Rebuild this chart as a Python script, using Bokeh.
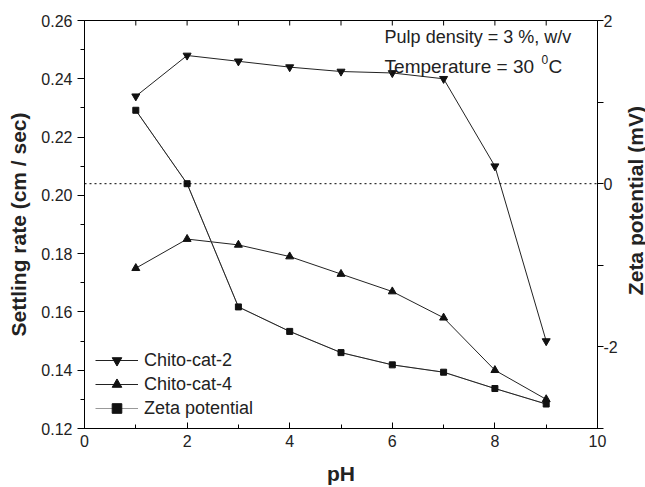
import math
from bokeh.plotting import figure
from bokeh.layouts import row
from bokeh.models import (Range1d, LinearAxis, FixedTicker, Span, Label, Legend,
                          LegendItem, PrintfTickFormatter)
from bokeh.embed import file_html
from bokeh.resources import INLINE

# ---- data ----
ph = [1, 2, 3, 4, 5, 6, 7, 8, 9]
chito_cat_2 = [0.234, 0.248, 0.246, 0.244, 0.2425, 0.242, 0.240, 0.210, 0.150]
chito_cat_4 = [0.175, 0.185, 0.183, 0.179, 0.173, 0.167, 0.158, 0.140, 0.130]
zeta_potential = [0.90, 0.0, -1.51, -1.81, -2.07, -2.22, -2.31, -2.51, -2.70]

x_ticks = [0, 2, 4, 6, 8, 10]
x_minor = [1, 3, 5, 7, 9]
y_ticks = [0.12, 0.14, 0.16, 0.18, 0.20, 0.22, 0.24, 0.26]
y_minor = [0.13, 0.15, 0.17, 0.19, 0.21, 0.23, 0.25]
zeta_ticks = [-2, 0, 2]
zeta_minor = [-3, -1, 1]

FONT = "Liberation Sans"
TXT = "#222222"

p = figure(width=620, height=487, output_backend="svg", toolbar_location=None,
           x_range=Range1d(x_ticks[0], x_ticks[-1]),
           y_range=Range1d(y_ticks[0], y_ticks[-1]),
           min_border_left=84, min_border_right=23, min_border_top=20,
           min_border_bottom=59)
p.extra_y_ranges = {"zeta": Range1d(zeta_minor[0], zeta_ticks[-1])}
p.xgrid.visible = False
p.ygrid.visible = False
p.outline_line_color = "black"
p.background_fill_color = "white"
p.border_fill_color = "white"

# bottom axis (ticks inward)
xa = p.xaxis[0]
xa.ticker = FixedTicker(ticks=x_ticks, minor_ticks=x_minor)
xa.axis_label = "pH"
xa.major_tick_in = 6
xa.major_tick_out = 0
xa.minor_tick_in = 4
xa.minor_tick_out = 0
xa.major_label_standoff = 6
xa.axis_label_standoff = 12

# left axis (ticks outward)
ya = p.yaxis[0]
ya.ticker = FixedTicker(ticks=y_ticks, minor_ticks=y_minor)
ya.formatter = PrintfTickFormatter(format="%.2f")
ya.axis_label = "Settling rate (cm / sec)"
ya.major_tick_in = 0
ya.major_tick_out = 7
ya.minor_tick_in = 0
ya.minor_tick_out = 4
ya.major_label_standoff = 5
ya.axis_label_standoff = 8

# right axis for zeta potential (its title is drawn in the side strip)
ra = LinearAxis(y_range_name="zeta",
                ticker=FixedTicker(ticks=zeta_ticks, minor_ticks=zeta_minor),
                formatter=PrintfTickFormatter(format="%d"))
ra.major_tick_in = 0
ra.major_tick_out = 6
ra.minor_tick_in = 0
ra.minor_tick_out = 6
ra.major_label_standoff = 0
p.add_layout(ra, "right")

for ax in (xa, ya, ra):
    ax.axis_line_color = "black"
    ax.major_tick_line_color = "black"
    ax.minor_tick_line_color = "black"
    ax.major_label_text_font = FONT
    ax.major_label_text_font_size = "16px"
    ax.major_label_text_color = TXT
    ax.axis_label_text_font = FONT
    ax.axis_label_text_color = TXT
    ax.axis_label_text_font_style = "bold"
    ax.axis_label_text_font_size = "21px"

# mirrored inward ticks along the top edge
p.scatter(x_ticks + x_minor, [y_ticks[-1]] * (len(x_ticks) + len(x_minor)),
          marker="dash", angle=math.pi / 2, size=10, line_color="black", line_width=1)

# zero line of zeta potential
p.add_layout(Span(location=0, dimension="width", y_range_name="zeta",
                  line_color="black", line_width=1, line_dash="2 3"))

# series
l2 = p.line(ph, chito_cat_2, line_color="#222222", line_width=1)
s2 = p.scatter(ph, chito_cat_2, marker="inverted_triangle", size=8,
               fill_color="#111111", line_color="#111111")
l4 = p.line(ph, chito_cat_4, line_color="#222222", line_width=1)
s4 = p.scatter(ph, chito_cat_4, marker="triangle", size=8,
               fill_color="#111111", line_color="#111111")
# grey line (legend swatch colour) lies under the dark zeta line
lz_leg = p.line(ph, zeta_potential, y_range_name="zeta", line_color="#999999",
                line_width=1)
lz = p.line(ph, zeta_potential, y_range_name="zeta", line_color="#222222", line_width=1)
sz = p.scatter(ph, zeta_potential, y_range_name="zeta", marker="square", size=6,
               fill_color="#111111", line_color="#111111")

legend = Legend(items=[
    LegendItem(label="Chito-cat-2", renderers=[l2, s2]),
    LegendItem(label="Chito-cat-4", renderers=[l4, s4]),
    LegendItem(label="Zeta potential", renderers=[lz_leg, sz]),
], location=(11, 8))
legend.glyph_width = 43
legend.glyph_height = 24
legend.label_height = 24
legend.spacing = 0
legend.padding = 0
legend.margin = 0
legend.label_standoff = 6
legend.border_line_alpha = 0
legend.background_fill_alpha = 0
legend.label_text_font = FONT
legend.label_text_font_size = "18px"
legend.label_text_color = TXT
p.add_layout(legend)

# annotations
p.add_layout(Label(x=5.85, y=0.2542, text="Pulp density = 3 %, w/v",
                   text_baseline="middle", text_font=FONT, text_font_size="18px",
                   text_color=TXT))
p.add_layout(Label(x=5.85, y=0.2442, text="Temperature = 30",
                   text_baseline="middle", text_font=FONT, text_font_size="19px",
                   text_color=TXT))
p.add_layout(Label(x=5.85, y=0.2442, x_offset=157, y_offset=7, text="0",
                   text_baseline="middle", text_font=FONT, text_font_size="12px",
                   text_color=TXT))
p.add_layout(Label(x=5.85, y=0.2442, x_offset=164, text="C",
                   text_baseline="middle", text_font=FONT, text_font_size="19px",
                   text_color=TXT))

# narrow strip on the right carrying the zeta-potential axis title
p2 = figure(width=25, height=487, output_backend="svg", toolbar_location=None,
            x_range=Range1d(0, 1), y_range=Range1d(0, 487),
            x_axis_location=None, y_axis_location=None, min_border=0)
p2.xgrid.visible = False
p2.ygrid.visible = False
p2.outline_line_color = None
p2.background_fill_color = "white"
p2.border_fill_color = "white"
p2.add_layout(Label(x=0.58, y=272, text="Zeta potential (mV)", angle=math.pi / 2,
                    text_align="center", text_baseline="middle", text_font=FONT,
                    text_font_size="21px", text_font_style="bold", text_color=TXT))

layout = row(p, p2, spacing=0)
open("out.html", "w").write(file_html(layout, INLINE))
